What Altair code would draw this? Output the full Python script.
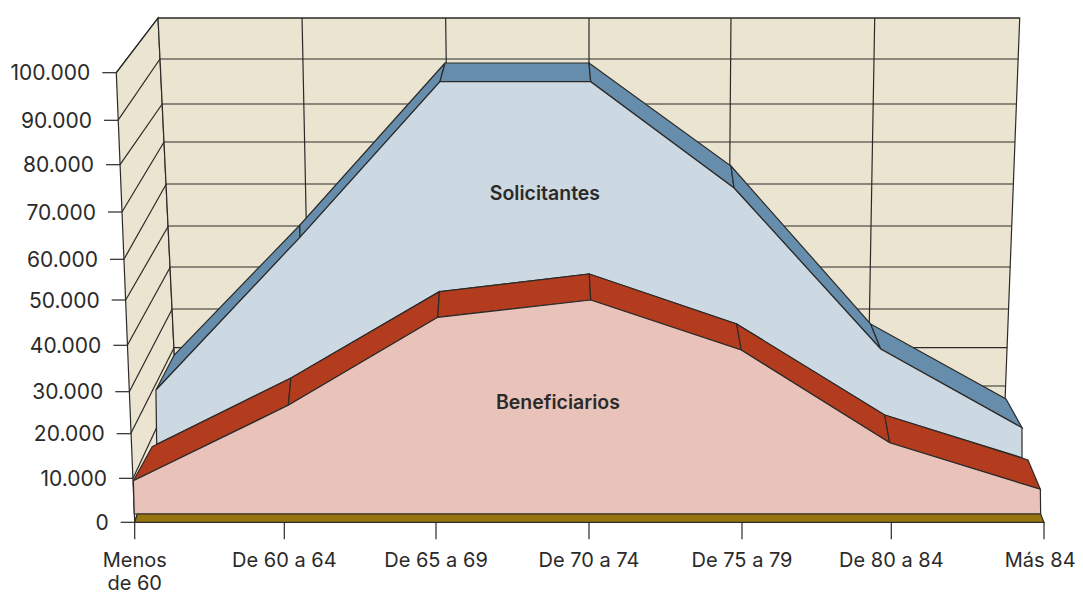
import altair as alt
import pandas as pd

categories = ["Menos\nde 60", "De 60 a 64", "De 65 a 69", "De 70 a 74", "De 75 a 79", "De 80 a 84", "Más 84"]
tick_values = [0, 10000, 20000, 30000, 40000, 50000, 60000, 70000, 80000, 90000, 100000]

# Series: age position and value, front and rear edge of each band
sol_front_age = [0.142, 1.103, 2.026, 3.011, 3.948, 4.929, 5.856]
sol_front_val = [30366, 64651, 98109, 98109, 75074, 39203, 21429]
sol_back_age = [0.264, 1.103, 2.059, 3.000, 3.928, 4.862, 5.751]
sol_back_val = [37909, 67252, 102038, 102038, 79725, 44702, 28262]
ben_front_age = [-0.009, 1.026, 2.011, 3.011, 3.995, 4.989, 5.976]
ben_front_val = [9455, 26762, 46181, 50000, 38987, 17982, 7500]
ben_back_age = [0.117, 1.044, 2.022, 3.002, 3.965, 4.956, 5.895]
ben_back_val = [17085, 32953, 52039, 56388, 44702, 24452, 14103]
sol_low_age = [0.147, 5.856]
sol_low_val = [17623, 14619]
base_val = 1886
base_front_age = [0.0, 6.0]
base_back_age = [0.017, 5.978]
face_base_age = [-0.003, 5.978]

# Walls in perspective, expressed on the same age and value scales
front_edge_age = [0.0, -0.011, -0.027, -0.036, -0.049, -0.060, -0.072, -0.085, -0.098, -0.112, -0.123]
back_levels = [31228, 39483, 48013, 58108, 67040, 75920, 85113, 93424, 102878, 111492]
back_left_age = [0.276, 0.263, 0.251, 0.238, 0.225, 0.211, 0.196, 0.184, 0.169, 0.156]
back_right_age = [5.747, 5.760, 5.771, 5.779, 5.784, 5.799, 5.810, 5.821, 5.832, 5.841]
wall_floor_val = 28024
wall_floor_left = 0.279
wall_floor_right = 5.745
back_vert_top = [1.117, 2.063, 3.000, 3.928, 4.889]
back_vert_low = [1.167, 2.096, 3.000, 3.908, 4.845]
label_age = [0, 1, 2, 3, 4, 5, 5.975]

X_DOMAIN = [0, 1, 2, 3, 4, 5, 6]
X_RANGE = [126.7, 276.3, 428, 581, 734, 883.3, 1036]
Y_RANGE = [514.3, 470.3, 425.7, 383.7, 337.3, 292, 251.3, 204, 156.7, 112.3, 64.7]

x_scale = alt.Scale(type="linear", domain=X_DOMAIN, range=X_RANGE, nice=False, zero=False)
y_scale = alt.Scale(type="linear", domain=tick_values, range=Y_RANGE, nice=False, zero=False)
INK = "#2b2a29"


def shapes_layer(polys, fill=None, width=1.2):
    rows = []
    for pid, pts in enumerate(polys):
        for n, (a, v) in enumerate(pts):
            rows.append({"pid": pid, "n": n, "age": a, "val": v})
    kw = {"fill": fill} if fill else {}
    return alt.Chart(pd.DataFrame(rows)).mark_line(color=INK, strokeWidth=width, **kw).encode(
        x=alt.X("age:Q", scale=x_scale, axis=None),
        y=alt.Y("val:Q", scale=y_scale, axis=None),
        detail="pid:N",
        order="n:Q",
    )


def closed(pts):
    return list(pts) + [pts[0]]


def band(fa, fv, ba, bv):
    return [closed([(fa[k], fv[k]), (fa[k + 1], fv[k + 1]), (ba[k + 1], bv[k + 1]), (ba[k], bv[k])])
            for k in range(len(fa) - 1)]


top_val = back_levels[-1]
back_wall = [closed([(back_left_age[-1], top_val), (back_right_age[-1], top_val),
                     (wall_floor_right, wall_floor_val), (wall_floor_left, wall_floor_val)])]
left_wall = [closed([(front_edge_age[-1], tick_values[-1]), (back_left_age[-1], top_val),
                     (wall_floor_left, wall_floor_val), (front_edge_age[0], tick_values[0])])]
grid_h = [[(l, v), (r, v)] for l, r, v in zip(back_left_age, back_right_age, back_levels)]
grid_v = [[(t, top_val), (b, back_levels[0])] for t, b in zip(back_vert_top, back_vert_low)]
grid_side = [[(front_edge_age[k + 1], tick_values[k + 1]), (back_left_age[k], back_levels[k])] for k in range(10)]

sol_face = [closed(list(zip(sol_front_age, sol_front_val))
                   + [(sol_low_age[1], sol_low_val[1])]
                   + list(zip(ben_back_age[1:-1], ben_back_val[1:-1]))[::-1]
                   + [(sol_low_age[0], sol_low_val[0])])]
ben_face = [closed(list(zip(ben_front_age, ben_front_val))
                   + [(face_base_age[1], base_val), (face_base_age[0], base_val)])]
base = [closed([(base_front_age[0], 0), (base_front_age[1], 0),
                (base_back_age[1], base_val), (base_back_age[0], base_val)])]

layers = [
    shapes_layer(left_wall, "#ebe4d0"),
    shapes_layer(back_wall, "#ebe4d0"),
    shapes_layer(grid_h),
    shapes_layer(grid_v),
    shapes_layer(grid_side),
    shapes_layer(band(sol_front_age, sol_front_val, sol_back_age, sol_back_val), "#668eac"),
    shapes_layer(sol_face, "#ccd8e2"),
    shapes_layer(band(ben_front_age, ben_front_val, ben_back_age, ben_back_val), "#b33c1f"),
    shapes_layer(ben_face, "#e9c2ba"),
    shapes_layer(base, "#96740f"),
]

ticks_y = pd.DataFrame({"val": tick_values, "edge": front_edge_age,
                        "label": [f"{v:,}".replace(",", ".") for v in tick_values]})
ticks_y["start"] = ticks_y["edge"] - 0.0936
layers.append(alt.Chart(ticks_y).mark_rule(color=INK, strokeWidth=1.2).encode(
    x=alt.X("start:Q", scale=x_scale, axis=None), x2="edge:Q",
    y=alt.Y("val:Q", scale=y_scale, axis=None)))
layers.append(alt.Chart(ticks_y).mark_text(align="right", baseline="middle", dx=-26, dy=1.5, font="Inter",
                                           fontSize=21, color=INK).encode(
    x=alt.X("edge:Q", scale=x_scale, axis=None),
    y=alt.Y("val:Q", scale=y_scale, axis=None), text="label:N"))

ticks_x = pd.DataFrame({"age": X_DOMAIN, "label_age": label_age, "zero": 0, "low": -3864, "label": categories})
layers.append(alt.Chart(ticks_x).mark_rule(color=INK, strokeWidth=1.2).encode(
    x=alt.X("age:Q", scale=x_scale, axis=None),
    y=alt.Y("zero:Q", scale=y_scale, axis=None), y2="low:Q"))
layers.append(alt.Chart(ticks_x).mark_text(align="center", baseline="alphabetic", dy=45, lineBreak="\n",
                                           lineHeight=23, font="Inter", fontSize=20, color=INK).encode(
    x=alt.X("label_age:Q", scale=x_scale, axis=None),
    y=alt.Y("zero:Q", scale=y_scale, axis=None), text="label:N"))

series_labels = pd.DataFrame({"age": [2.712, 2.797], "val": [74228, 27548], "label": ["Solicitantes", "Beneficiarios"]})
layers.append(alt.Chart(series_labels).mark_text(align="center", baseline="middle", dy=1.5, font="Inter", fontWeight=600,
                                                 fontSize=19.5, color=INK).encode(
    x=alt.X("age:Q", scale=x_scale, axis=None),
    y=alt.Y("val:Q", scale=y_scale, axis=None), text="label:N"))

chart = alt.layer(*layers).properties(
    width=1067, height=586, background="#ffffff", padding=0,
    autosize=alt.AutoSizeParams(type="none"),
).configure_view(strokeWidth=0)

chart.save("out.html", embed_options={"renderer": "svg", "actions": False})
